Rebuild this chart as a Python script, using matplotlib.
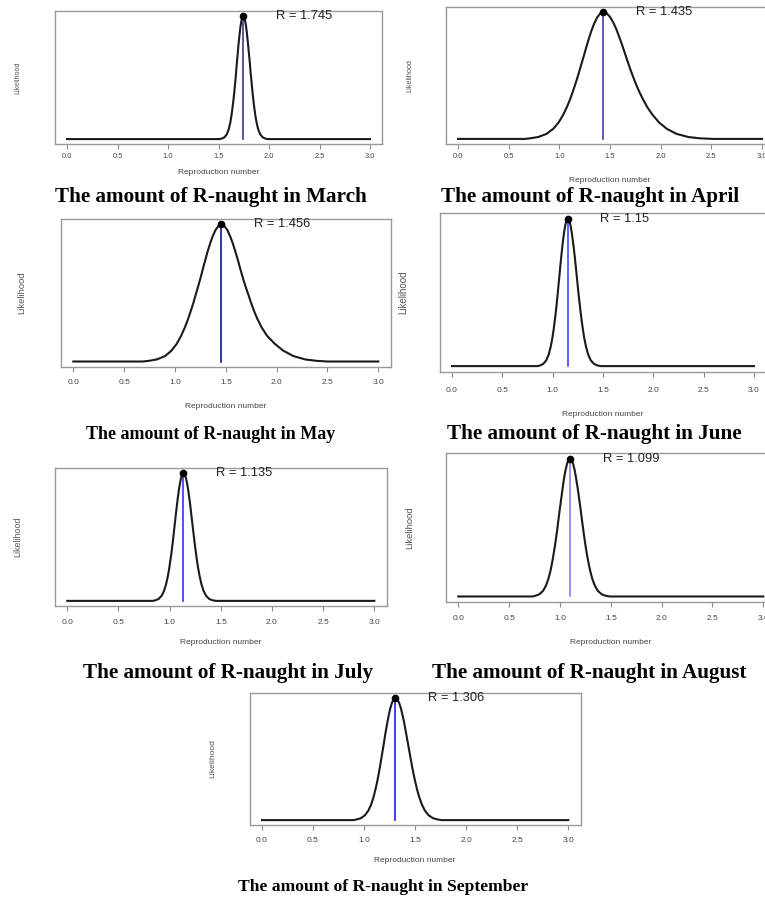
import matplotlib
matplotlib.use('Agg')
import matplotlib.pyplot as plt
from matplotlib import transforms

W, H = 765, 898

months = ['March', 'April', 'May', 'June', 'July', 'August', 'September']
r_values = [1.745, 1.435, 1.456, 1.15, 1.135, 1.099, 1.306]
r_labels = ['R = 1.745', 'R = 1.435', 'R = 1.456', 'R = 1.15',
            'R = 1.135', 'R = 1.099', 'R = 1.306']

x_ticks = [0.0, 0.5, 1.0, 1.5, 2.0, 2.5, 3.0]
x_tick_labels = ['0.0', '0.5', '1.0', '1.5', '2.0', '2.5', '3.0']

# likelihood curves: relative heights (peak = 1) and the x
# positions where each curve crosses them, left flank (foot -> peak) and
# right flank (peak -> foot)
levels_up = [0, 0.005, 0.015, 0.04, 0.08, 0.13, 0.19, 0.25, 0.31, 0.37, 0.43,
             0.49, 0.55, 0.62, 0.68, 0.74, 0.80, 0.86, 0.91, 0.96, 0.99]
levels_down = levels_up[::-1]

march_left = [1.51, 1.537, 1.560, 1.583, 1.601, 1.616, 1.628, 1.638, 1.647, 1.655, 1.662,
              1.669, 1.675, 1.682, 1.689, 1.695, 1.702, 1.710, 1.717, 1.727, 1.736]
march_right = [1.754, 1.764, 1.774, 1.781, 1.789, 1.796, 1.803, 1.810, 1.817, 1.824, 1.831,
               1.838, 1.846, 1.855, 1.865, 1.878, 1.893, 1.912, 1.936, 1.960, 1.985]

april_left = [0.66, 0.712, 0.792, 0.874, 0.940, 0.993, 1.038, 1.074, 1.105, 1.132, 1.157,
              1.181, 1.203, 1.229, 1.251, 1.272, 1.295, 1.320, 1.344, 1.375, 1.405]
april_right = [1.468, 1.502, 1.537, 1.565, 1.593, 1.620, 1.645, 1.670, 1.700, 1.728, 1.757,
               1.790, 1.827, 1.868, 1.920, 1.984, 2.060, 2.156, 2.273, 2.385, 2.52]

may_left = [0.68, 0.743, 0.821, 0.903, 0.966, 1.018, 1.062, 1.098, 1.129, 1.156, 1.182,
            1.205, 1.229, 1.255, 1.276, 1.298, 1.320, 1.345, 1.369, 1.399, 1.428]
may_right = [1.485, 1.515, 1.545, 1.570, 1.595, 1.619, 1.641, 1.664, 1.693, 1.721, 1.748,
             1.777, 1.811, 1.852, 1.903, 1.981, 2.063, 2.164, 2.282, 2.393, 2.50]

june_left = [0.85, 0.877, 0.907, 0.937, 0.961, 0.980, 0.997, 1.010, 1.021, 1.032, 1.041,
             1.050, 1.058, 1.068, 1.076, 1.085, 1.094, 1.104, 1.114, 1.126, 1.138]
june_right = [1.163, 1.176, 1.189, 1.199, 1.210, 1.220, 1.229, 1.238, 1.248, 1.257, 1.267,
              1.277, 1.288, 1.300, 1.314, 1.332, 1.352, 1.378, 1.411, 1.443, 1.48]

july_left = [0.835, 0.862, 0.892, 0.922, 0.946, 0.965, 0.982, 0.995, 1.006, 1.017, 1.026,
             1.035, 1.043, 1.053, 1.061, 1.070, 1.079, 1.089, 1.099, 1.111, 1.123]
july_right = [1.147, 1.160, 1.173, 1.183, 1.193, 1.203, 1.211, 1.220, 1.230, 1.239, 1.248,
              1.258, 1.268, 1.280, 1.294, 1.311, 1.331, 1.356, 1.387, 1.418, 1.455]

august_left = [0.73, 0.757, 0.795, 0.833, 0.863, 0.887, 0.908, 0.924, 0.938, 0.951, 0.963,
               0.974, 0.984, 0.996, 1.007, 1.018, 1.029, 1.041, 1.053, 1.069, 1.084]
august_right = [1.114, 1.130, 1.146, 1.158, 1.171, 1.183, 1.194, 1.205, 1.217, 1.228, 1.239,
                1.251, 1.264, 1.279, 1.296, 1.317, 1.342, 1.373, 1.412, 1.451, 1.49]

september_left = [0.895, 0.925, 0.967, 1.009, 1.043, 1.070, 1.093, 1.111, 1.127, 1.141, 1.154,
                  1.166, 1.178, 1.192, 1.203, 1.215, 1.228, 1.242, 1.255, 1.273, 1.289]
september_right = [1.324, 1.343, 1.362, 1.376, 1.392, 1.405, 1.418, 1.431, 1.446, 1.459, 1.472,
                   1.486, 1.502, 1.519, 1.539, 1.565, 1.594, 1.631, 1.677, 1.723, 1.756]

flanks = [(march_left, march_right), (april_left, april_right), (may_left, may_right),
          (june_left, june_right), (july_left, july_right), (august_left, august_right),
          (september_left, september_right)]

# layout of each panel in pixels: tick 0 x, tick 3 x, box top, box bottom,
# tick label y, xlabel y, ylabel x, caption centre, sizes, line colour
layout = [
    dict(x0=67, x3=370, top=11, bottom=144, ty=156.5, xly=173, ylx=18, cap=(211, 197),
         capsz=15.2, ysz=5.2, tsz=5.4, blue='#3a3a90'),
    dict(x0=458, x3=762, top=7, bottom=144, ty=156.5, xly=181, ylx=410, cap=(590, 197),
         capsz=15.2, ysz=5.3, tsz=5.5, blue='#4040b0'),
    dict(x0=73.3, x3=378.3, top=219, bottom=367, ty=383, xly=407, ylx=22, cap=(211, 434),
         capsz=13.0, ysz=6.8, tsz=6, blue='#10109a'),
    dict(x0=452, x3=754, top=213, bottom=372, ty=390, xly=415, ylx=403, cap=(594, 434),
         capsz=15.2, ysz=7, tsz=6, blue='#4444ff'),
    dict(x0=67.3, x3=374.3, top=468, bottom=606, ty=623, xly=643, ylx=18, cap=(228, 673),
         capsz=15.2, ysz=6.4, tsz=6, blue='#3333ff'),
    dict(x0=458.3, x3=763.3, top=453, bottom=602, ty=618, xly=642, ylx=410, cap=(589, 673),
         capsz=15.2, ysz=6.8, tsz=6, blue='#8080ff'),
    dict(x0=262, x3=568.3, top=693, bottom=825, ty=840, xly=860, ylx=213, cap=(383, 887),
         capsz=12.6, ysz=6.1, tsz=6, blue='#2020e8'),
]

sans = 'Liberation Sans'
serif = 'Liberation Serif'

fig = plt.figure(figsize=(W / 100, H / 100), dpi=100)
fig.patch.set_facecolor('white')

for i in range(len(months)):
    lo = layout[i]
    r = r_values[i]
    left_x, right_x = flanks[i]
    cx = [0] + left_x + [r] + right_x + [3]
    cy = [0] + levels_up + [1] + levels_down + [0]

    s = (lo['x3'] - lo['x0']) / 3
    left = lo['x0'] - 0.12 * s
    ax = fig.add_axes([left / W, 1 - lo['bottom'] / H, 3.24 * s / W,
                       (lo['bottom'] - lo['top']) / H])
    ax.set_xlim(-0.12, 3.12)
    ax.set_ylim(-0.04, 1.04)

    ax.plot(cx, cy, color='#1a1a1a', lw=1.5, solid_joinstyle='round')
    ax.plot([r, r], [0, 1], color=lo['blue'], lw=1.2)
    ax.plot([r], [1], 'o', color='black', ms=4.5)
    ax.text(r + 0.32, 1.0, r_labels[i], fontsize=9.3, family=sans, color='#222222',
            ha='left', va='center')

    for sp in ax.spines.values():
        sp.set_color('#999999')
        sp.set_linewidth(1.0)
    ax.set_yticks([])
    ax.set_xticks(x_ticks)
    ax.tick_params(axis='x', length=3.5, width=0.8, color='#888888', labelbottom=False)

    tr = transforms.blended_transform_factory(ax.transData, fig.transFigure)
    for t, lab in zip(x_ticks, x_tick_labels):
        fig.text(t, 1 - lo['ty'] / H, lab, transform=tr, fontsize=lo['tsz'], family=sans,
                 color='#444444', ha='center', va='center')

    fig.text((left + 1.62 * s) / W, 1 - lo['xly'] / H, 'Reproduction number', fontsize=6,
             family=sans, color='#444444', ha='center', va='center')
    fig.text(lo['ylx'] / W, 1 - (lo['top'] + lo['bottom']) / 2 / H, 'Likelihood',
             fontsize=lo['ysz'], family=sans, color='#555555', rotation=90,
             ha='center', va='center')
    fig.text(lo['cap'][0] / W, 1 - lo['cap'][1] / H, 'The amount of R-naught in ' + months[i],
             fontsize=lo['capsz'], family=serif, fontweight='bold', color='black',
             ha='center', va='center')

fig.savefig('out.png', dpi=100, facecolor='white')
